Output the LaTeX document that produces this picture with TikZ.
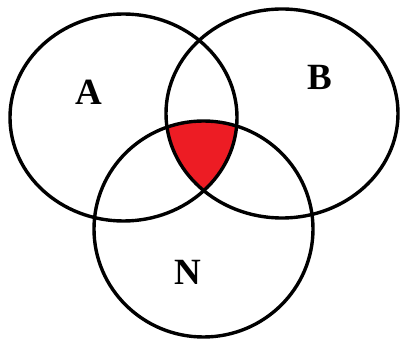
\documentclass[tikz,border=0pt]{standalone}
\usepackage{fontspec}
\setmainfont{Liberation Serif}
\usepackage{tikz}
\usetikzlibrary{positioning}

\definecolor{setred}{RGB}{237,28,36}

\begin{document}
\begin{tikzpicture}[
  x=1pt, y=-1pt,
  ring/.style={draw=black, line width=3.4pt},
  lbl/.style={font=\fontsize{37}{37}\selectfont\bfseries, inner sep=0pt},
]
\useasboundingbox (0,0) rectangle (402,339);

% shaded part: A and B and N
\begin{scope}
  \clip (123.5,117.5) ellipse [x radius=113.5, y radius=103.5];
  \clip (282,113.5) ellipse [x radius=116, y radius=104.5];
  \fill[setred] (203.5,229) ellipse [x radius=109.5, y radius=108];
\end{scope}

\draw[ring] (123.5,117.5) ellipse [x radius=113.5, y radius=103.5];
\draw[ring] (282,113.5) ellipse [x radius=116, y radius=104.5];
\draw[ring] (203.5,229) ellipse [x radius=109.5, y radius=108];

\node[lbl] (a) at (89,92)  {A};
\node[lbl] (b) at (320,77) {B};
\node[lbl] (n) at (188,272) {N};
\end{tikzpicture}
\end{document}
